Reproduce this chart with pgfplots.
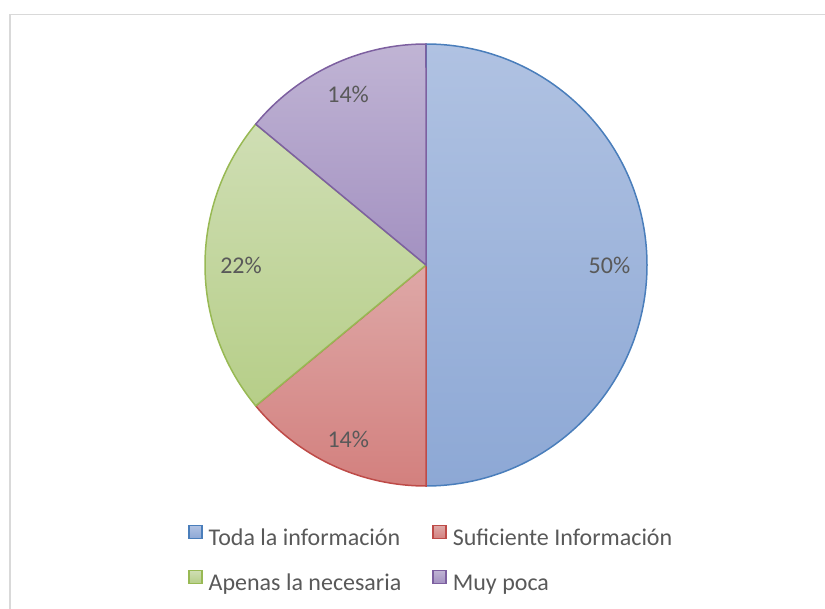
\documentclass[border=0pt]{standalone}
\usepackage{pgfplots}
\pgfplotsset{compat=1.18}
\usepgfplotslibrary{polar}
\usepackage{fontspec}
\setmainfont{Carlito}

\definecolor{framegray}{RGB}{217,217,217}
\definecolor{txtgray}{RGB}{89,89,89}
% slice colours: border, top of gradient, bottom of gradient
\definecolor{blueB}{RGB}{74,126,187}
\definecolor{blueT}{RGB}{176,194,226}
\definecolor{blueD}{RGB}{141,168,213}
\definecolor{redB}{RGB}{190,75,72}
\definecolor{redT}{RGB}{222,168,167}
\definecolor{redD}{RGB}{211,128,126}
\definecolor{greenB}{RGB}{152,185,84}
\definecolor{greenT}{RGB}{207,222,180}
\definecolor{greenD}{RGB}{182,206,136}
\definecolor{purpleB}{RGB}{125,96,160}
\definecolor{purpleT}{RGB}{192,180,212}
\definecolor{purpleD}{RGB}{163,145,193}

\begin{document}
\begin{tikzpicture}[lab/.style={text=txtgray, font=\fontsize{24bp}{28bp}\selectfont}]
\useasboundingbox (0,0) rectangle (825bp,609bp);
\draw[framegray, line width=1.5bp] (10bp,-5bp) -- (10bp,594.3bp) -- (830bp,594.3bp);

\begin{polaraxis}[
  at={(426bp,344bp)}, anchor=center,
  width=442bp, height=442bp, scale only axis,
  hide axis, clip=false,
  xmin=0, xmax=360, ymin=0, ymax=1,
  legend columns=2,
  legend cell align=left,
  legend image code/.code={\draw[#1, line width=1.5bp] (0bp,1bp) rectangle (13bp,14bp);},
  legend style={
    at={(-0.0385,-0.0875)}, anchor=north west,
    draw=none, fill=none, inner sep=0pt,
    text=txtgray,
    font=\fontsize{24bp}{28bp}\selectfont,
    nodes={inner sep=0pt, text height=18bp, text depth=6bp},
    row sep=18bp,
    /tikz/every odd column/.append style={column sep=6bp},
    /tikz/every even column/.append style={column sep=31bp},
  },
]
% shares: 50, 14, 22, 14 per cent, clockwise from the top
\addplot[draw=blueB, line width=1.5bp, top color=blueT, bottom color=blueD,
  domain=90:-90, samples=181] {1} -- (axis cs:0,0) -- cycle;
\addlegendentry{Toda la información}
\addplot[draw=redB, line width=1.5bp, top color=redT, bottom color=redD,
  domain=-90:-140.4, samples=60] {1} -- (axis cs:0,0) -- cycle;
\addlegendentry{Suficiente Información}
\addplot[draw=greenB, line width=1.5bp, top color=greenT, bottom color=greenD,
  domain=-140.4:-219.6, samples=80] {1} -- (axis cs:0,0) -- cycle;
\addlegendentry{Apenas la necesaria}
\addplot[draw=purpleB, line width=1.5bp, top color=purpleT, bottom color=purpleD,
  domain=-219.6:-270, samples=60] {1} -- (axis cs:0,0) -- cycle;
\addlegendentry{Muy poca}

\node[lab] at (axis cs:0,0.83) {50\%};
\node[lab] at (axis cs:-114,0.865) {14\%};
\node[lab] at (axis cs:180,0.837) {22\%};
\node[lab] at (axis cs:114.5,0.85) {14\%};
\end{polaraxis}
\end{tikzpicture}
\end{document}
